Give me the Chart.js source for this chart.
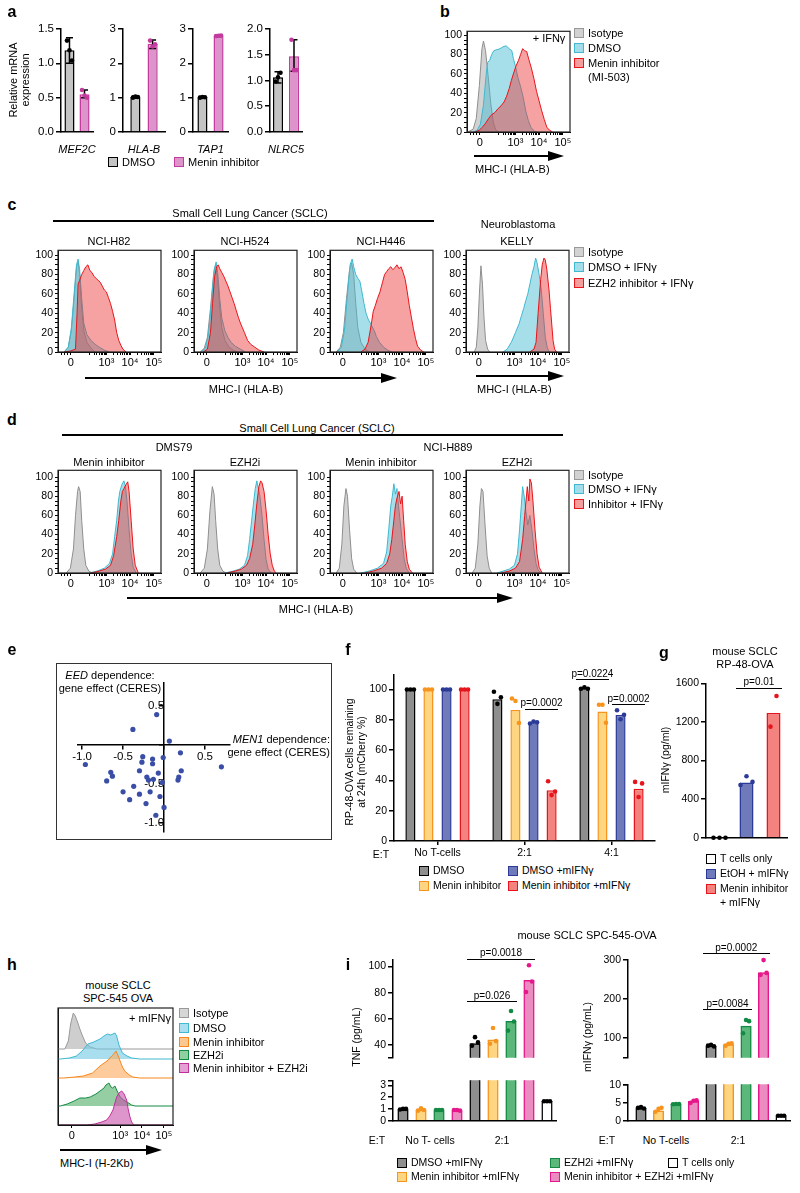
<!DOCTYPE html>
<html>
<head>
<meta charset="utf-8">
<title>Menin inhibition and MHC-I</title>
<script src="https://cdn.jsdelivr.net/npm/chart.js@4.4.0/dist/chart.umd.min.js"></script>
<style>
  body { margin: 0; background: #fff; }
  #fig { position: relative; width: 800px; height: 1193px; overflow: hidden;
         font-family: 'Liberation Sans', Arial, sans-serif; color: #000; }
  #fig canvas { position: absolute; }
  .t { position: absolute; white-space: nowrap; font-size: 11px; line-height: 1.1; }
  .sw { position: absolute; box-sizing: border-box; width: 10px; height: 10px; border: 1.5px solid; }
  .hl { position: absolute; height: 0; border-top: 1.5px solid #000; }
</style>
</head>
<body>
<div id="fig"></div>
<script>
// ---------- data ----------
// a: qPCR
var genes = ['MEF2C', 'HLA-B', 'TAP1', 'NLRC5'];
var aDmso = [1.19, 1.02, 1.01, 1.06];
var aMenin = [0.55, 2.57, 2.80, 1.47];
var aDmsoErr = [[1.0, 1.37], [0.98, 1.05], [0.99, 1.03], [0.95, 1.17]];
var aMeninErr = [[0.50, 0.61], [2.43, 2.68], [2.78, 2.82], [1.18, 1.79]];
var aDmsoRep = [[1.33, 1.19, 1.04], [1.0, 1.03, 1.02], [1.0, 1.02, 1.01], [0.98, 1.06, 1.15]];
var aMeninRep = [[0.61, 0.53, 0.50], [2.66, 2.49, 2.55], [2.79, 2.80, 2.81], [1.79, 1.20, 1.20]];
var aMax = [1.5, 3, 3, 2];
var aStep = [0.5, 1, 1, 0.5];

// histogram axis labels (position on a 0-100 display axis)
var histTickPos = [12.5, 47, 70, 93];
var histTickLab = ['0', '10³', '10⁴', '10⁵'];

// b: [display position, % of max]
var bIso = [[1,0],[6,3],[9,14],[12,48],[14.5,86],[16,94],[18,84],[20.5,58],[23,30],[25.5,10],[28,2],[31,0]];
var bDmso = [[6,0],[10,2],[13,8],[16,28],[18.5,58],[20,72],[22,74],[24,80],[26,84],[29,85],[32,86],[35,88],[38,89],[41,86],[43.5,84],[45,76],[47,68],[49.5,56],[52,47],[54.5,36],[57,22],[59.5,12],[62,5],[65,1],[68,0]];
var bMen = [[8,0],[12,2],[15,5],[18,9],[21,14],[24,18],[27,20],[30,24],[33,27],[36,31],[38.5,37],[41,45],[43,53],[45,60],[47.5,68],[50,74],[52,80],[54,86],[56,84],[58,83],[60,75],[62.5,66],[65,55],[67.5,42],[70,32],[72.5,22],[75,13],[77.5,5],[80,2],[83,0]];

// c: NCI-H82, NCI-H524, NCI-H446, KELLY
var c1Iso = [[6,0],[10,5],[13,22],[16,60],[18,88],[19.5,93],[21,80],[23,45],[25,22],[28,10],[32,4],[36,0]];
var c1Dmso = [[6,0],[10,5],[13,25],[16,65],[18,90],[19.5,96],[21,85],[23,55],[25,30],[28,18],[32,12],[36,8],[40,5],[45,2],[50,0]];
var c1Ezh = [[6,0],[12,1],[17,3],[18.5,40],[19.5,70],[21,74],[23,80],[25,84],[27,88],[29,90],[31,84],[33,82],[35,78],[37,76],[39,74],[41,72],[43,68],[45,64],[47,62],[49,56],[51,50],[53,42],[55,33],[57,20],[59,12],[61,7],[63,3],[66,0]];
var c2Iso = [[6,0],[10,4],[13,15],[16,45],[19,80],[21,90],[23,75],[25,45],[27,25],[30,12],[34,5],[38,2],[42,0]];
var c2Dmso = [[7,0],[11,4],[14,18],[17,52],[19.5,85],[21.5,93],[23,82],[25,55],[27,35],[30,22],[33,15],[36,10],[40,6],[45,3],[50,0]];
var c2Ezh = [[9,0],[13,3],[16,20],[18,50],[20,78],[22,88],[23.5,90],[25,86],[27,82],[29,78],[31,73],[33,68],[35,62],[37,56],[39,50],[41,43],[43,36],[45,30],[47,25],[49,20],[52,12],[55,8],[59,5],[63,2],[68,0]];
var c3Iso = [[6,0],[10,5],[13,20],[16,55],[19,85],[21,92],[23,80],[25,50],[27,25],[30,10],[34,3],[38,0]];
var c3Dmso = [[7,0],[11,5],[14,22],[17,60],[19.5,90],[21.5,96],[23,88],[25,80],[27,76],[29,73],[31,62],[33,50],[35,40],[37,34],[39,30],[41,26],[43,22],[45,16],[48,10],[52,5],[56,2],[60,0]];
var c3Ezh = [[30,0],[34,3],[37,10],[40,28],[42,42],[44,48],[46,55],[48.5,62],[51,72],[53,80],[55,83],[57,86],[59,88],[61,85],[63,87],[65,90],[67,86],[69,88],[71,82],[73,75],[75,62],[77,48],[79,36],[81,24],[83,14],[85,6],[88,2],[91,0]];
var c4Iso = [[8,0],[10,5],[11.5,25],[13,60],[14.5,89],[16,70],[17.5,35],[19,12],[21,3],[23,0]];
var c4Dmso = [[36,0],[40,3],[44,10],[48,20],[51.5,29],[54,38],[56,45],[58,53],[60,60],[62,70],[64,80],[66,88],[67.6,97],[69,92],[71,80],[73,65],[75,40],[77,15],[79,4],[81,0]];
var c4Ezh = [[62,0],[66,3],[68,10],[70,40],[72.5,75],[74,90],[75.7,97],[77,95],[78.5,85],[80.6,64],[82,45],[83,32],[84.5,12],[86,3],[88,0]];

// d: DMS79 menin / EZH2i, NCI-H889 menin / EZH2i
var d1Iso = [[8,0],[12,5],[15,25],[17,60],[19,85],[20,90],[21.5,85],[23,55],[25,25],[27,8],[30,2],[33,0]];
var d1Dmso = [[30,0],[38,2],[45,5],[50,10],[53,20],[55,38],[57,55],[58.6,74],[60,85],[62,92],[64,96],[65.5,90],[67,75],[69,45],[71,20],[73,6],[76,0]];
var d1Inh = [[32,0],[40,2],[46,4],[51,8],[54,18],[57,38],[59,55],[61,75],[62.5,85],[64,88],[66,92],[67.7,95],[69,85],[71,55],[73,25],[75,8],[78,0]];
var d2Iso = [[6,0],[10,5],[13,25],[15.5,65],[17.8,90],[19.5,82],[21,55],[23,25],[25,8],[28,2],[31,0]];
var d2Dmso = [[30,0],[38,2],[44,4],[49,8],[52,18],[54,35],[56,55],[58,75],[59.5,88],[61,96],[62.5,88],[64,80],[66,60],[68,35],[70,14],[72,4],[75,0]];
var d2Inh = [[32,0],[40,2],[46,4],[51,8],[54,15],[57,30],[59,50],[61,72],[63,90],[64.7,96],[66,94],[68,85],[70,65],[72,40],[74,20],[76,8],[78,2],[80,0]];
var d3Iso = [[6,0],[9,5],[11.5,30],[13.5,70],[15.5,88],[17,80],[19,45],[21,15],[23,4],[26,0]];
var d3Dmso = [[30,0],[38,2],[46,5],[52,10],[55,22],[57,45],[59,70],[60.5,80],[62,93],[63.5,82],[65,88],[66.5,70],[68,55],[70,35],[72,15],[74,5],[77,0]];
var d3Inh = [[34,0],[42,2],[50,5],[55,10],[58,20],[60,35],[62,55],[63.5,70],[65,78],[67,85],[68.5,72],[70,80],[71.5,55],[73,30],[75,12],[77,4],[80,0]];
var d4Iso = [[6,0],[9,5],[11.5,30],[13.5,70],[15,88],[16.5,85],[18.5,50],[20.5,18],[22.5,5],[25,0]];
var d4Dmso = [[30,0],[36,2],[42,4],[47,8],[50,20],[52,45],[54,75],[55,90],[56.5,80],[58,65],[60,50],[62,60],[64,45],[66,25],[68,10],[70,3],[73,0]];
var d4Inh = [[34,0],[42,2],[48,5],[52,12],[55,35],[57,60],[59.5,90],[61,75],[62,98],[63.5,94],[65,75],[67,45],[69,20],[71,6],[74,0]];

// e: CERES gene effects
var eMen1 = [-0.09, -0.38, 0.065, 0.20, -0.01, -0.96, -0.26, -0.14, -0.27, -0.14, 0.70, 0.21, -0.30, -0.07, -0.65, -0.63, -0.21, -0.19, -0.13, 0.18, 0.17, -0.70, -0.02, -0.37, -0.17, -0.30, -0.05, -0.42, -0.22, 0.0, -0.50, -0.10];
var eEed = [0.39, 0.20, 0.05, -0.10, -0.16, -0.25, -0.15, -0.18, -0.22, -0.24, -0.28, -0.33, -0.33, -0.36, -0.35, -0.40, -0.41, -0.45, -0.44, -0.41, -0.45, -0.46, -0.48, -0.53, -0.60, -0.63, -0.66, -0.70, -0.75, -0.80, -0.60, -0.90];
var eTicks = [-1.0, -0.5, 0, 0.5];

// f: killing assay
var fGroups = ['No T-cells', '2:1', '4:1'];
var fDmso = [100, 93.5, 100.8];
var fMenin = [100, 86.5, 85.5];
var fDmsoIfn = [100, 78.5, 83.2];
var fMeninIfn = [100, 33.5, 34.5];
var fDmsoRep = [[100, 100, 100], [98.5, 90.5, 94.8], [100.5, 101.5, 100.5]];
var fMeninRep = [[100, 100, 100], [94, 92.4, 77.9], [89.9, 89.9, 78]];
var fDmsoIfnRep = [[100, 100, 100], [77.5, 78.8, 78.3], [86.3, 80.3, 83.3]];
var fMeninIfnRep = [[100, 100, 100], [39.4, 30.3, 32.7], [39, 29, 38]];

// g: IFNγ ELISA
var gCats = ['T cells only', 'EtOH + mIFNγ', 'Menin inhibitor + mIFNγ'];
var gVals = [0, 571, 1292];
var gReps = [[0, 0, 0], [545, 637, 578], [1151, 1469]];

// h: ridgeline heights above each baseline, bottom curve first
var hCombo = [[0,0],[25,0],[32,1],[38,3],[42.3,5],[45,9],[47.8,15],[49.5,22],[51,28],[53,32],[55.4,34],[57.5,31],[59.7,25],[61,16],[62.6,8],[64,3],[66,0],[100,0]];
var hEzh = [[0,0],[2,0],[8,2],[14,5],[19,8],[24,8],[28,9],[33,12],[36.5,15],[40,18],[41.7,21],[44.3,23],[46,19],[47.5,18],[49.5,20],[51,16],[54,9],[57,6],[60,4],[64,1],[67,0],[100,0]];
var hMen = [[0,0],[5,0],[15,1],[22,2],[30,5],[36.5,12],[42.6,17],[46.7,22],[48.5,24],[50.4,27],[52,23],[54,17],[56,11],[58,7],[62,3],[65,1],[71,0],[100,0]];
var hDmso = [[0,0],[2,0],[10,1],[16,3],[21,8],[26,15],[31,17],[36.5,20],[40,23],[43,25],[46,24],[49.5,26],[51,23],[53,14],[56,6],[60,3],[64,1],[71,0],[100,0]];
var hIso = [[0,0],[6,0],[9,8],[11,25],[13.3,36],[15,33],[17,27],[19,20],[21,14],[24,6],[28,2],[34,0],[100,0]];
var hOffsets = [0, 19, 47, 66, 76];
var hTickPos = [12, 54, 73, 92];

// i: cytokines, 9 bar slots (4 no T-cells, 4 at 2:1, T cells only)
var iSlots = ['DMSO', 'Menin', 'EZH2i', 'Menin+EZH2i', 'DMSO', 'Menin', 'EZH2i', 'Menin+EZH2i', 'T cells only'];
var tnfVals = [0.95, 0.9, 0.85, 0.85, 41, 44, 58, 89.5, 1.65];
var tnfReps = [[0.95, 1.0, 1.0], [0.85, 1.05, 0.9], [0.9, 0.9, 0.9], [0.9, 0.9, 0.85], [39.5, 46, 42], [41, 53, 43], [51, 66, 58], [80.5, 101, 88.5], [1.65, 1.65, 1.65]];
var ifnVals = [3.5, 2.8, 4.7, 5.4, 79, 83, 130, 268, 1.4];
var ifnReps = [[3.6, 3.8, 3.4], [2.5, 3.3, 3.6], [4.6, 4.7, 4.7], [5.0, 5.6, 5.7], [80, 82, 78], [80, 85, 86], [112, 146, 143], [262, 300, 267], [1.4, 1.4, 1.4]];
var tnfUpTicks = [40, 60, 80, 100], tnfLoTicks = [0, 1, 2, 3];
var ifnUpTicks = [100, 200, 300], ifnLoTicks = [0, 5, 10];

// ---------- setup ----------
var fig = document.getElementById('fig');
Chart.defaults.font.family = "'Liberation Sans', Arial, sans-serif";
Chart.defaults.font.size = 11;
Chart.defaults.color = '#000';
Chart.defaults.animation = false;
Chart.defaults.events = [];
Chart.defaults.plugins.legend.display = false;
Chart.defaults.plugins.tooltip.enabled = false;

Chart.register({
  id: 'frame',
  afterDraw: function (chart, args, o) {
    if (!o.on) return;
    var a = chart.chartArea, ctx = chart.ctx;
    ctx.save(); ctx.strokeStyle = '#222'; ctx.lineWidth = 1.2;
    ctx.strokeRect(a.left, a.top, a.right - a.left, a.bottom - a.top);
    ctx.restore();
  }
});
// replicate dots and error bars on top of bars
Chart.register({
  id: 'reps',
  afterDatasetsDraw: function (chart) {
    var ctx = chart.ctx, ys = chart.scales.y;
    chart.data.datasets.forEach(function (ds, di) {
      chart.getDatasetMeta(di).data.forEach(function (bar, i) {
        if (ds.err && ds.err[i]) {
          var y1 = ys.getPixelForValue(ds.err[i][0]), y2 = ys.getPixelForValue(ds.err[i][1]);
          ctx.save(); ctx.strokeStyle = '#000'; ctx.lineWidth = 1.5; ctx.beginPath();
          ctx.moveTo(bar.x, y1); ctx.lineTo(bar.x, y2);
          ctx.moveTo(bar.x - 3.5, y1); ctx.lineTo(bar.x + 3.5, y1);
          ctx.moveTo(bar.x - 3.5, y2); ctx.lineTo(bar.x + 3.5, y2);
          ctx.stroke(); ctx.restore();
        }
        var r = ds.reps && ds.reps[i];
        if (!r) return;
        var col = Array.isArray(ds.dotColor) ? ds.dotColor[i] : ds.dotColor;
        r.forEach(function (v, k) {
          if (v < ys.min || v > ys.max) return;
          var dx = (k - (r.length - 1) / 2) * (ds.jitter == null ? 3 : ds.jitter);
          ctx.beginPath(); ctx.arc(bar.x + dx, ys.getPixelForValue(v), 2.3, 0, Math.PI * 2);
          ctx.fillStyle = col; ctx.fill();
        });
      });
    });
  }
});

function T(x, y, s, o) {
  o = o || {};
  var d = document.createElement('div'); d.className = 't'; d.innerHTML = s;
  var al = o.al || 'c';
  var tx = al === 'l' ? '0' : (al === 'r' ? '-100%' : '-50%');
  d.style.left = x + 'px'; d.style.top = y + 'px';
  d.style.transform = 'translate(' + tx + ',-50%)' + (o.rot ? ' rotate(' + o.rot + 'deg)' : '');
  if (o.size) d.style.fontSize = o.size + 'px';
  if (o.bold) d.style.fontWeight = 'bold';
  if (o.center) d.style.textAlign = 'center';
  fig.appendChild(d);
}
function H(x1, x2, y, w) {
  var d = document.createElement('div'); d.className = 'hl';
  d.style.left = x1 + 'px'; d.style.width = (x2 - x1) + 'px';
  d.style.top = (y - (w || 1.5) / 2) + 'px'; d.style.borderTopWidth = (w || 1.5) + 'px';
  fig.appendChild(d);
}
function arrow(x1, x2, y) {
  H(x1, x2 - 12, y, 2);
  var d = document.createElement('div');
  d.style.cssText = 'position:absolute;width:0;height:0;border-left:16px solid #000;border-top:5px solid transparent;border-bottom:5px solid transparent;';
  d.style.left = (x2 - 16) + 'px'; d.style.top = (y - 5) + 'px';
  fig.appendChild(d);
}
function sw(x, y, fill, stroke, label, size) {
  var d = document.createElement('div'); d.className = 'sw';
  d.style.left = (x - 5) + 'px'; d.style.top = (y - 5) + 'px';
  d.style.background = fill; d.style.borderColor = stroke;
  fig.appendChild(d);
  if (label) T(x + 9, y, label, { al: 'l', size: size });
}

function place(axisX, plotTop, plotW, plotH, yw, xh, padT, padR, cfg) {
  var c = document.createElement('canvas');
  var W = Math.round(yw + plotW + padR), Hh = Math.round(padT + plotH + xh);
  c.width = W; c.height = Hh;
  c.style.left = (axisX - yw) + 'px'; c.style.top = (plotTop - padT) + 'px';
  c.style.width = W + 'px'; c.style.height = Hh + 'px';
  fig.appendChild(c);
  cfg.options.responsive = false;
  cfg.options.maintainAspectRatio = false;
  cfg.options.layout = { padding: { top: padT, right: padR, left: 0, bottom: 0 }, autoPadding: false };
  cfg.options.scales.y.afterFit = function (s) { s.width = yw; };
  cfg.options.scales.x.afterFit = function (s) { s.height = xh; };
  var ch = new Chart(c, cfg);
  ch.L = axisX - yw; ch.T = plotTop - padT;
  return ch;
}
function sig(ch, a, b, yv, label) {
  var m1 = ch.getDatasetMeta(a[0]).data[a[1]], m2 = ch.getDatasetMeta(b[0]).data[b[1]];
  var x1 = ch.L + m1.x - m1.width / 2 - 3, x2 = ch.L + m2.x + m2.width / 2 + 1;
  var y = ch.T + ch.scales.y.getPixelForValue(yv);
  H(x1, x2, y, 1.2);
  T((x1 + x2) / 2, y - 7, label, { size: 10 });
}

function yAxis(min, max, ticks, fmt, size) {
  return {
    min: min, max: max, beginAtZero: false,
    afterBuildTicks: function (s) { s.ticks = ticks.map(function (v) { return { value: v }; }); },
    ticks: { autoSkip: false, padding: 2, font: { size: size || 11 }, callback: fmt || function (v) { return v; } },
    grid: { drawOnChartArea: false, tickLength: 5, color: '#000', lineWidth: 1.5 },
    border: { color: '#000', width: 1.5 }
  };
}

// ---------- panel a ----------
var aGeo = [[61, 32, 0.94, 0.67], [123, 41.6, 0.82, 0.59], [193, 34.6, 0.92, 0.625], [270, 32, 1.0, 0.625]];
genes.forEach(function (g, i) {
  var ticks = [];
  for (var v = 0; v <= aMax[i] + 1e-9; v += aStep[i]) ticks.push(Math.round(v * 10) / 10);
  var geo = aGeo[i];
  place(geo[0], 28, geo[1], 104, 30, 22, 8, 12, {
    type: 'bar',
    data: {
      labels: [g],
      datasets: [
        { data: [aDmso[i]], backgroundColor: '#c4c4c4', borderColor: '#000', borderWidth: 1.5,
          categoryPercentage: geo[2], barPercentage: geo[3], reps: [aDmsoRep[i]], err: [aDmsoErr[i]], dotColor: '#000', jitter: 2.5 },
        { data: [aMenin[i]], backgroundColor: '#dd94cb', borderColor: '#c23b9d', borderWidth: 1.5,
          categoryPercentage: geo[2], barPercentage: geo[3], reps: [aMeninRep[i]], err: [aMeninErr[i]], dotColor: '#c23b9d', jitter: 2.5 }
      ]
    },
    options: {
      scales: {
        x: { ticks: { font: { size: 11, style: 'italic' }, padding: 3, maxRotation: 0, minRotation: 0, autoSkip: false },
             grid: { display: false }, border: { color: '#000', width: 1.5 } },
        y: yAxis(0, aMax[i], ticks, function (v) { return aStep[i] < 1 ? v.toFixed(1) : v; }, 11.5)
      }
    }
  });
});
T(19, 80, 'Relative mRNA<br>expression', { rot: -90, center: true });
sw(113, 162, '#c4c4c4', '#000', 'DMSO');
sw(179, 162, '#dd94cb', '#c23b9d', 'Menin inhibitor');

// ---------- histograms b, c, d ----------
var GRAY = { fill: 'rgba(165,165,165,0.5)', line: '#8f8f8f' };
var CYAN = { fill: 'rgba(70,188,212,0.48)', line: '#40b8cf' };
var RED = { fill: 'rgba(236,48,48,0.45)', line: '#e8151b' };
var minorX = [3, 6, 9];
[24, 47, 70].forEach(function (d) { for (var k = 2; k <= 9; k++) minorX.push(d + 23 * Math.log10(k)); });

function hist(ax, top, h, ymax, curves) {
  var yt = []; for (var v = 0; v <= 100; v += 5) yt.push(v);
  var xt = histTickPos.concat(minorX).sort(function (a, b) { return a - b; });
  return place(ax, top, 103, h, 30, 18, 6, 8, {
    type: 'line',
    data: { datasets: curves.map(function (c) {
      return { data: c[0].map(function (p) { return { x: p[0], y: p[1] }; }),
               borderColor: c[1].line, backgroundColor: c[1].fill, borderWidth: 1,
               pointRadius: 0, fill: 'origin', tension: 0 };
    }) },
    options: {
      plugins: { frame: { on: true } },
      scales: {
        x: { type: 'linear', min: 0, max: 100,
             afterBuildTicks: function (s) { s.ticks = xt.map(function (v) { return { value: v }; }); },
             ticks: { autoSkip: false, maxRotation: 0, padding: 1, font: { size: 11 },
                      callback: function (v) { var k = histTickPos.indexOf(v); return k < 0 ? '' : histTickLab[k]; } },
             grid: { drawOnChartArea: false, tickLength: 3, color: '#000' }, border: { color: '#000' } },
        y: { min: 0, max: ymax,
             afterBuildTicks: function (s) { s.ticks = yt.map(function (v) { return { value: v }; }); },
             ticks: { autoSkip: false, padding: 2, font: { size: 10.5 },
                      callback: function (v) { return v % 20 === 0 ? v : ''; } },
             grid: { drawOnChartArea: false, tickLength: 3, color: '#000' }, border: { color: '#000' } }
      }
    }
  });
}

// b
hist(467, 29, 103, 104, [[bMen, RED], [bDmso, CYAN], [bIso, GRAY]]);
T(549, 38, '+ IFNγ');
sw(579, 33, '#d2d2d2', '#999', 'Isotype');
sw(579, 48, '#a3dde9', '#40b8cf', 'DMSO');
sw(579, 63, '#f59e9e', '#e8151b', 'Menin inhibitor');
T(588, 77, '(MI-503)', { al: 'l' });
arrow(474, 564, 156);
T(475, 169, 'MHC-I (HLA-B)', { al: 'l' });

// c
var cx = [58, 194, 330, 466];
var cSets = [[c1Ezh, c1Dmso, c1Iso], [c2Ezh, c2Dmso, c2Iso], [c3Ezh, c3Dmso, c3Iso], [c4Ezh, c4Dmso, c4Iso]];
cSets.forEach(function (s, i) { hist(cx[i], 248, 104, 105, [[s[0], RED], [s[1], CYAN], [s[2], GRAY]]); });
T(250, 213, 'Small Cell Lung Cancer (SCLC)');
H(53, 434, 221, 2);
T(518, 224, 'Neuroblastoma');
['NCI-H82', 'NCI-H524', 'NCI-H446', 'KELLY'].forEach(function (n, i) { T(cx[i] + 51, 241, n); });
sw(579, 252, '#d2d2d2', '#999', 'Isotype');
sw(579, 267, '#a3dde9', '#40b8cf', 'DMSO + IFNγ');
sw(579, 283, '#f59e9e', '#e8151b', 'EZH2 inhibitor + IFNγ');
arrow(85, 397, 378);
T(246, 389, 'MHC-I (HLA-B)');
arrow(476, 564, 376);
T(477, 389, 'MHC-I (HLA-B)', { al: 'l' });

// d
var dSets = [[d1Inh, d1Dmso, d1Iso], [d2Inh, d2Dmso, d2Iso], [d3Inh, d3Dmso, d3Iso], [d4Inh, d4Dmso, d4Iso]];
dSets.forEach(function (s, i) { hist(cx[i], 468, 105, 107, [[s[0], RED], [s[1], CYAN], [s[2], GRAY]]); });
T(317, 428, 'Small Cell Lung Cancer (SCLC)');
H(62, 563, 435, 2);
T(174, 447, 'DMS79');
T(448, 447, 'NCI-H889');
['Menin inhibitor', 'EZH2i', 'Menin inhibitor', 'EZH2i'].forEach(function (n, i) { T(cx[i] + 51, 462, n); });
sw(579, 475, '#d2d2d2', '#999', 'Isotype');
sw(579, 489, '#a3dde9', '#40b8cf', 'DMSO + IFNγ');
sw(579, 504, '#f59e9e', '#e8151b', 'Inhibitor + IFNγ');
arrow(127, 513, 598);
T(316, 609, 'MHC-I (HLA-B)');

// ---------- panel e ----------
(function () {
  var box = document.createElement('div');
  box.style.cssText = 'position:absolute;left:56px;top:663px;width:276px;height:177px;box-sizing:border-box;border:1.2px solid #333;';
  fig.appendChild(box);
  var c = document.createElement('canvas');
  c.width = 276; c.height = 177;
  c.style.left = '56px'; c.style.top = '663px'; c.style.width = '276px'; c.style.height = '177px';
  fig.appendChild(c);
  var tick = function (v) { return v === 0 ? '' : v.toFixed(1); };
  new Chart(c, {
    type: 'scatter',
    data: { datasets: [{ data: eMen1.map(function (x, i) { return { x: x, y: eEed[i] }; }),
                         backgroundColor: '#3a4ea6', borderWidth: 0, pointRadius: 2.6 }] },
    options: {
      responsive: false,
      layout: { padding: { left: 22, right: 102, top: 20, bottom: 8 }, autoPadding: false },
      scales: {
        x: { type: 'linear', position: { y: 0 }, min: -1.05, max: 0.805,
             afterBuildTicks: function (s) { s.ticks = eTicks.map(function (v) { return { value: v }; }); },
             ticks: { autoSkip: false, maxRotation: 0, padding: 1, callback: tick, font: { size: 11.5 } },
             grid: { drawOnChartArea: false, tickLength: 4, color: '#000', lineWidth: 1.5 }, border: { color: '#000', width: 1.5 } },
        y: { type: 'linear', position: { x: 0 }, min: -1.115, max: 0.795,
             afterBuildTicks: function (s) { s.ticks = eTicks.map(function (v) { return { value: v }; }); },
             ticks: { autoSkip: false, padding: 1, callback: tick, font: { size: 11.5 } },
             grid: { drawOnChartArea: false, tickLength: 4, color: '#000', lineWidth: 1.5 }, border: { color: '#000', width: 1.5 } }
      }
    }
  });
  T(110, 675, '<i>EED</i> dependence:');
  T(110, 688, 'gene effect (CERES)');
  T(330, 739, '<i>MEN1</i> dependence:', { al: 'r' });
  T(330, 752, 'gene effect (CERES)', { al: 'r' });
})();

// ---------- panel f ----------
var fChart = place(394, 670, 261, 171, 32, 18, 4, 3, {
  type: 'bar',
  data: {
    labels: fGroups,
    datasets: [
      { data: fDmso, backgroundColor: '#8e8e8e', borderColor: '#000', reps: fDmsoRep, dotColor: '#000' },
      { data: fMenin, backgroundColor: '#fed581', borderColor: '#f7941d', reps: fMeninRep, dotColor: '#f7941d' },
      { data: fDmsoIfn, backgroundColor: '#6f7aba', borderColor: '#2b3a96', reps: fDmsoIfnRep, dotColor: '#2b3a96' },
      { data: fMeninIfn, backgroundColor: '#f4837f', borderColor: '#e8141b', reps: fMeninIfnRep, dotColor: '#e8141b' }
    ].map(function (d) { return Object.assign(d, { borderWidth: 1.5, categoryPercentage: 0.83, barPercentage: 0.56, jitter: 3.5 }); })
  },
  options: {
    scales: {
      x: { ticks: { padding: 2, font: { size: 10.5 }, maxRotation: 0 }, grid: { drawOnChartArea: false, offset: false, tickLength: 4, color: '#000', lineWidth: 1.5 }, border: { color: '#000', width: 1.5 } },
      y: yAxis(0, 110, [0, 20, 40, 60, 80, 100], null, 10.5)
    }
  }
});
sig(fChart, [2, 1], [3, 1], 87, 'p=0.0002');
sig(fChart, [0, 2], [1, 2], 106.5, 'p=0.0224');
sig(fChart, [2, 2], [3, 2], 89.7, 'p=0.0002');
T(356, 762, 'RP-48-OVA cells remaining<br>at 24h (mCherry %)', { rot: -90, center: true, size: 10.5 });
T(381, 855, 'E:T', { size: 10.5 });
sw(424, 871, '#8e8e8e', '#000', 'DMSO', 10.5);
sw(424, 886, '#fed581', '#f7941d', 'Menin inhibitor', 10.5);
sw(513, 871, '#6f7aba', '#2b3a96', 'DMSO +mIFNγ', 10.5);
sw(513, 886, '#f4837f', '#e8141b', 'Menin inhibitor +mIFNγ', 10.5);

// ---------- panel g ----------
var gChart = place(706, 679, 81, 163, 36, 4, 4, 3, {
  type: 'bar',
  data: {
    labels: gCats,
    datasets: [{ data: gVals, backgroundColor: ['#ffffff', '#6f7aba', '#f4837f'], borderColor: ['#000', '#2b3a96', '#e8141b'],
                 borderWidth: 1.5, categoryPercentage: 1, barPercentage: 0.52, reps: gReps,
                 dotColor: ['#000', '#2b3a96', '#e8141b'], jitter: 6 }]
  },
  options: {
    scales: {
      x: { ticks: { display: false }, grid: { display: false }, border: { color: '#000', width: 1.5 } },
      y: yAxis(0, 1600, [0, 400, 800, 1200, 1600], null, 10.5)
    }
  }
});
sig(gChart, [0, 1], [0, 2], 1550, 'p=0.01');
T(745, 651, 'mouse SCLC');
T(745, 664, 'RP-48-OVA');
T(666, 760, 'mIFNγ (pg/ml)', { rot: -90, size: 10.5 });
sw(711, 859, '#ffffff', '#000', 'T cells only', 10.5);
sw(711, 874, '#6f7aba', '#2b3a96', 'EtOH + mIFNγ', 10.5);
sw(711, 889, '#f4837f', '#e8141b', 'Menin inhibitor', 10.5);
T(720, 903, '+ mIFNγ', { al: 'l', size: 10.5 });

// ---------- panel h ----------
(function () {
  var hCol = [
    { fill: 'rgba(200,78,170,0.6)', line: '#c0309a' },
    { fill: 'rgba(60,165,85,0.55)', line: '#138a43' },
    { fill: 'rgba(253,170,90,0.6)', line: '#f7861d' },
    { fill: 'rgba(110,200,225,0.6)', line: '#3fb8d0' },
    { fill: 'rgba(190,190,190,0.75)', line: '#999' }
  ];
  var curves = [hCombo, hEzh, hMen, hDmso, hIso];
  var xt = hTickPos.slice();
  place(58, 1008, 115, 117, 4, 18, 2, 6, {
    type: 'line',
    data: { datasets: curves.map(function (cv, i) {
      return { data: cv.map(function (p) { return { x: p[0], y: p[1] + hOffsets[i] }; }),
               borderColor: hCol[i].line, backgroundColor: hCol[i].fill, borderWidth: 1,
               pointRadius: 0, tension: 0, fill: { value: hOffsets[i] } };
    }) },
    options: {
      plugins: { frame: { on: true } },
      scales: {
        x: { type: 'linear', min: 0, max: 100,
             afterBuildTicks: function (s) { s.ticks = xt.map(function (v) { return { value: v }; }); },
             ticks: { autoSkip: false, maxRotation: 0, padding: 1, font: { size: 11 },
                      callback: function (v) { var k = hTickPos.indexOf(v); return k < 0 ? '' : histTickLab[k]; } },
             grid: { drawOnChartArea: false, tickLength: 3, color: '#000' }, border: { color: '#000' } },
        y: { min: 0, max: 117, ticks: { display: false }, grid: { display: false }, border: { color: '#000' } }
      }
    }
  });
  T(118, 985, 'mouse SCLC');
  T(118, 998, 'SPC-545 OVA');
  T(150, 1018, '+ mIFNγ');
  sw(184, 1013, '#d6d6d6', '#999', 'Isotype');
  sw(184, 1028, '#a9dff0', '#3fb8d0', 'DMSO');
  sw(184, 1042, '#fdc88f', '#f7861d', 'Menin inhibitor');
  sw(184, 1055, '#8fd0a0', '#138a43', 'EZH2i');
  sw(184, 1068, '#e4a0d4', '#c0309a', 'Menin inhibitor + EZH2i');
  arrow(60, 162, 1150);
  T(60, 1163, 'MHC-I (H-2Kb)', { al: 'l' });
})();

// ---------- panel i ----------
var iFill = ['#8e8e8e', '#fed581', '#5cb87a', '#ea8cbf', '#8e8e8e', '#fed581', '#5cb87a', '#ea8cbf', '#ffffff'];
var iLine = ['#000', '#f7941d', '#138a43', '#e6178a', '#000', '#f7941d', '#138a43', '#e6178a', '#000'];

function iPair(axisX, xmin, xmax, pxPerSlot, up, lo, vals, reps) {
  var plotW = (xmax - xmin) * pxPerSlot;
  function mk(seg, isUp) {
    var data = vals.map(function (v, i) { return { x: i + 1, y: (isUp && v < seg.min) ? null : v }; });
    var ticks = isUp ? [seg.min].concat(seg.ticks) : seg.ticks.concat([seg.max]);
    return place(axisX, seg.top, plotW, seg.h, 34, isUp ? 0 : 3, isUp ? 6 : 1, 3, {
      type: 'bar',
      data: { datasets: [{ data: data, backgroundColor: iFill, borderColor: iLine, borderWidth: 1.5,
                           barThickness: 10.5, reps: reps, dotColor: iLine, jitter: 3 }] },
      options: {
        scales: {
          x: { type: 'linear', min: xmin, max: xmax, offset: false, display: !isUp,
               ticks: { display: false }, grid: { display: false }, border: { color: '#000', width: 1.5 } },
          y: yAxis(seg.min, seg.max, ticks, function (v) { return seg.ticks.indexOf(v) < 0 ? '' : v; }, 10.5)
        }
      }
    });
  }
  return [mk(up, true), mk(lo, false)];
}
var tnf = iPair(393, 0.444, 9.5, 18,
  { top: 957, h: 109, min: 30.3, max: 105.5, ticks: tnfUpTicks },
  { top: 1073, h: 53, min: 0, max: 3.42, ticks: tnfLoTicks }, tnfVals, tnfReps);
var ifn = iPair(628, 0.257, 9.51, 17.5,
  { top: 957, h: 109, min: 49, max: 302, ticks: ifnUpTicks },
  { top: 1077, h: 49, min: 0, max: 10.2, ticks: ifnLoTicks }, ifnVals, ifnReps);
sig(tnf[0], [0, 4], [0, 7], 105.5, 'p=0.0018');
sig(tnf[0], [0, 4], [0, 6], 73, 'p=0.026');
sig(ifn[0], [0, 4], [0, 7], 316, 'p=0.0002');
sig(ifn[0], [0, 4], [0, 6], 172, 'p=0.0084');
T(587, 935, 'mouse SCLC SPC-545-OVA');
T(357, 1037, 'TNF (pg/mL)', { rot: -90, size: 10.5 });
T(588, 1037, 'mIFNγ (pg/mL)', { rot: -90, size: 10.5 });
T(377, 1141, 'E:T', { size: 10.5 }); T(430, 1141, 'No T- cells', { size: 10.5 }); T(502, 1141, '2:1', { size: 10.5 });
T(607, 1141, 'E:T', { size: 10.5 }); T(666, 1141, 'No T-cells', { size: 10.5 }); T(738, 1141, '2:1', { size: 10.5 });
sw(402, 1163, '#8e8e8e', '#000', 'DMSO +mIFNγ', 10.5);
sw(402, 1177, '#fed581', '#f7941d', 'Menin inhibitor +mIFNγ', 10.5);
sw(555, 1163, '#5cb87a', '#138a43', 'EZH2i +mIFNγ', 10.5);
sw(555, 1177, '#ea8cbf', '#e6178a', 'Menin inhibitor + EZH2i +mIFNγ', 10.5);
sw(673, 1163, '#ffffff', '#000', 'T cells only', 10.5);

// ---------- panel letters ----------
[['a', 12, 12], ['b', 445, 12], ['c', 12, 205], ['d', 12, 420], ['e', 12, 650],
 ['f', 348, 650], ['g', 664, 653], ['h', 12, 965], ['i', 348, 965]].forEach(function (p) {
  T(p[1], p[2], p[0], { size: 16, bold: true });
});
</script>
</body>
</html>
